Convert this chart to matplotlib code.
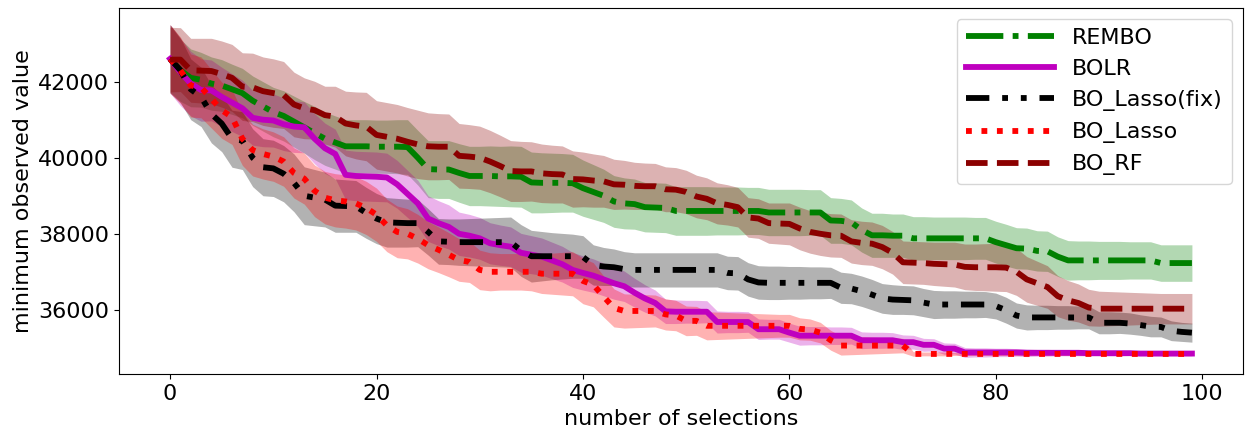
import numpy as np
import matplotlib
matplotlib.use('Agg')
import matplotlib.pyplot as plt

# number of selections 0..99
n_sel = np.arange(100)

# REMBO
rembo_mean = [42600, 42300, 42100, 42050, 41950, 41900, 41800, 41700, 41500, 41350,
              41200, 41100, 40950, 40800, 40650, 40500, 40400, 40300, 40300, 40300,
              40290, 40290, 40290, 40280, 40000, 39700, 39690, 39690, 39600, 39520,
              39520, 39520, 39510, 39510, 39500, 39350, 39340, 39340, 39340, 39330,
              39200, 39100, 39000, 38850, 38800, 38780, 38700, 38690, 38680, 38600,
              38600, 38600, 38600, 38600, 38600, 38600, 38600, 38600, 38560, 38560,
              38560, 38560, 38560, 38560, 38350, 38340, 38300, 38100, 37960, 37960,
              37950, 37950, 37880, 37880, 37880, 37880, 37880, 37880, 37880, 37880,
              37780, 37700, 37620, 37610, 37550, 37540, 37400, 37300, 37300, 37300,
              37300, 37300, 37300, 37300, 37300, 37300, 37230, 37230, 37230, 37230]
rembo_std = [880, 820, 760, 720, 700, 680, 660, 650, 650, 650,
             650, 660, 670, 680, 700, 700, 700, 700, 700, 700,
             700, 700, 710, 720, 720, 750, 760, 760, 770, 780,
             780, 790, 790, 800, 800, 800, 790, 780, 770, 760,
             740, 720, 700, 680, 670, 660, 650, 650, 650, 640,
             640, 640, 640, 630, 630, 630, 620, 620, 610, 610,
             610, 610, 600, 600, 600, 590, 590, 580, 580, 580,
             570, 570, 570, 570, 560, 560, 560, 560, 550, 550,
             550, 550, 540, 540, 530, 530, 520, 520, 510, 510,
             500, 500, 500, 490, 490, 490, 480, 480, 480, 480]

# BOLR
bolr_mean = [42600, 42250, 41950, 41780, 41770, 41600, 41450, 41300, 41050, 41000,
             40980, 40880, 40820, 40800, 40500, 40250, 40100, 39550, 39520, 39510,
             39500, 39480, 39300, 39050, 38800, 38400, 38280, 38180, 38000, 37950,
             37880, 37750, 37700, 37660, 37500, 37450, 37400, 37300, 37200, 37050,
             36970, 36900, 36800, 36700, 36620, 36450, 36300, 36180, 35960, 35950,
             35950, 35950, 35950, 35680, 35680, 35680, 35680, 35490, 35490, 35490,
             35400, 35320, 35320, 35320, 35320, 35320, 35320, 35200, 35200, 35200,
             35200, 35150, 35150, 35080, 35080, 34980, 34980, 34880, 34880, 34880,
             34880, 34880, 34880, 34870, 34870, 34870, 34870, 34870, 34870, 34860,
             34860, 34860, 34860, 34860, 34850, 34850, 34850, 34850, 34850, 34850]
bolr_std = [900, 880, 850, 820, 800, 780, 760, 740, 720, 710,
            700, 690, 680, 670, 660, 660, 650, 650, 650, 650,
            650, 640, 630, 620, 610, 600, 590, 580, 570, 560,
            550, 540, 530, 520, 510, 500, 490, 480, 470, 460,
            450, 440, 430, 420, 400, 380, 360, 340, 320, 310,
            300, 300, 290, 290, 280, 280, 270, 270, 260, 260,
            250, 250, 240, 240, 230, 230, 220, 220, 210, 210,
            200, 190, 180, 170, 160, 150, 140, 130, 120, 120,
            110, 110, 100, 100, 90, 90, 80, 80, 80, 70,
            70, 70, 70, 60, 60, 60, 60, 60, 60, 60]

# BO_Lasso(fix)
lassofix_mean = [42600, 42300, 41800, 41600, 41150, 40900, 40500, 40450, 40000, 39750,
                 39720, 39580, 39340, 39000, 38950, 38900, 38740, 38730, 38720, 38550,
                 38400, 38300, 38290, 38280, 38280, 38050, 37800, 37790, 37780, 37780,
                 37780, 37780, 37780, 37780, 37560, 37410, 37410, 37410, 37410, 37410,
                 37390, 37180, 37140, 37120, 37070, 37050, 37050, 37050, 37050, 37050,
                 37050, 37050, 37050, 37050, 36970, 36960, 36800, 36720, 36710, 36710,
                 36710, 36710, 36710, 36710, 36710, 36580, 36560, 36490, 36400, 36300,
                 36270, 36260, 36250, 36190, 36140, 36140, 36140, 36140, 36140, 36140,
                 36100, 35990, 35850, 35800, 35800, 35800, 35800, 35800, 35800, 35800,
                 35660, 35660, 35660, 35640, 35600, 35560, 35550, 35450, 35420, 35400]
lassofix_std = [900, 850, 800, 780, 760, 740, 750, 760, 760, 750,
                740, 740, 760, 760, 740, 720, 700, 690, 680, 670,
                660, 650, 640, 630, 620, 610, 600, 600, 610, 620,
                630, 640, 650, 660, 680, 680, 650, 620, 600, 580,
                560, 530, 500, 480, 460, 450, 450, 450, 450, 450,
                450, 450, 450, 450, 440, 440, 440, 440, 440, 440,
                430, 430, 420, 420, 410, 410, 400, 400, 400, 390,
                390, 380, 380, 370, 370, 360, 360, 350, 350, 340,
                340, 340, 330, 330, 320, 320, 310, 310, 300, 300,
                290, 290, 280, 280, 270, 270, 260, 260, 250, 250]

# BO_Lasso
lasso_mean = [42600, 42300, 41900, 41850, 41550, 41250, 41070, 40500, 40200, 40100,
              40030, 39900, 39600, 39450, 39130, 38950, 38880, 38850, 38800, 38680,
              38500, 38220, 38050, 38000, 37870, 37700, 37580, 37450, 37310, 37260,
              37050, 37000, 37000, 37000, 37000, 37000, 36950, 36950, 36950, 36950,
              36760, 36660, 36350, 36050, 35970, 35970, 35970, 35970, 35880, 35850,
              35710, 35710, 35580, 35580, 35580, 35580, 35580, 35580, 35580, 35580,
              35580, 35500, 35480, 35400, 35200, 35060, 35060, 35060, 35060, 35060,
              35060, 35060, 34840, 34840, 34840, 34840, 34840, 34840, 34840, 34840,
              34840, 34840, 34840, 34840, 34840, 34840, 34840, 34840, 34840, 34840,
              34840, 34840, 34840, 34840, 34840, 34840, 34840, 34840, 34840, 34840]
lasso_std = [900, 870, 830, 800, 770, 740, 720, 700, 680, 660,
             650, 650, 660, 670, 680, 690, 700, 700, 700, 700,
             700, 690, 680, 660, 640, 620, 600, 580, 560, 540,
             520, 500, 480, 480, 480, 500, 520, 540, 560, 580,
             600, 580, 540, 500, 450, 440, 430, 420, 410, 400,
             390, 380, 370, 360, 350, 340, 330, 320, 310, 300,
             300, 290, 280, 270, 260, 250, 240, 230, 220, 210,
             200, 190, 60, 50, 50, 50, 40, 40, 40, 40,
             40, 40, 40, 40, 40, 40, 40, 40, 40, 40,
             40, 40, 40, 40, 40, 40, 40, 40, 40, 40]

# BO_RF
rf_mean = [42580, 42580, 42300, 42290, 42280, 42200, 42100, 41870, 41850, 41750,
           41700, 41650, 41400, 41300, 41250, 41120, 41080, 40900, 40850, 40820,
           40600, 40550, 40500, 40420, 40350, 40300, 40290, 40290, 40050, 40030,
           40000, 39900, 39780, 39650, 39640, 39640, 39590, 39570, 39560, 39440,
           39430, 39400, 39380, 39300, 39290, 39260, 39250, 39250, 39170, 39160,
           39100, 38980, 38920, 38800, 38760, 38700, 38430, 38400, 38280, 38270,
           38260, 38140, 38050, 38000, 37960, 37950, 37800, 37760, 37740, 37650,
           37500, 37250, 37240, 37230, 37210, 37200, 37190, 37130, 37120, 37120,
           37120, 37110, 37000, 36800, 36700, 36600, 36360, 36250, 36180, 36060,
           36030, 36030, 36030, 36030, 36030, 36030, 36030, 36030, 36030, 36030]
rf_std = [850, 840, 840, 850, 860, 870, 880, 890, 900, 900,
          900, 880, 850, 800, 760, 760, 800, 850, 880, 900,
          900, 900, 900, 900, 900, 880, 870, 860, 850, 840,
          830, 820, 810, 800, 790, 780, 770, 760, 750, 740,
          720, 700, 680, 660, 640, 620, 610, 600, 590, 580,
          570, 560, 550, 540, 530, 520, 520, 520, 530, 540,
          550, 560, 560, 570, 570, 570, 570, 570, 570, 570,
          560, 560, 560, 560, 570, 580, 590, 600, 610, 620,
          630, 630, 620, 600, 580, 560, 540, 520, 500, 480,
          460, 450, 440, 430, 420, 410, 400, 400, 400, 400]

methods = ['REMBO', 'BOLR', 'BO_Lasso(fix)', 'BO_Lasso', 'BO_RF']
means = [rembo_mean, bolr_mean, lassofix_mean, lasso_mean, rf_mean]
stds = [rembo_std, bolr_std, lassofix_std, lasso_std, rf_std]
colors = ['g', 'm', 'k', 'r', 'darkred']
styles = ['-.', '-', (0, (4, 2.2, 1, 2.2, 1, 2.2)), ':', '--']

fig = plt.figure(figsize=(12.47, 4.32), dpi=100)
ax = fig.add_axes([119 / 1247, 1 - 374 / 432, 1124 / 1247, 366 / 432])

for name, m, s, c, ls in zip(methods, means, stds, colors, styles):
    m = np.array(m)
    s = np.array(s)
    ax.plot(n_sel, m, linestyle=ls, color=c, lw=4.2, label=name)
    ax.fill_between(n_sel, m - s, m + s, color=c, alpha=0.3, lw=0)

ax.set_xticks([0, 20, 40, 60, 80, 100])
ax.set_yticks([36000, 38000, 40000, 42000])
ax.tick_params(labelsize=16)
ax.set_xlabel('number of selections', fontsize=16)
ax.set_ylabel('minimum observed value', fontsize=16)
ax.legend(loc='upper right', fontsize=16, handlelength=4)

plt.savefig('out.png', dpi=100)
